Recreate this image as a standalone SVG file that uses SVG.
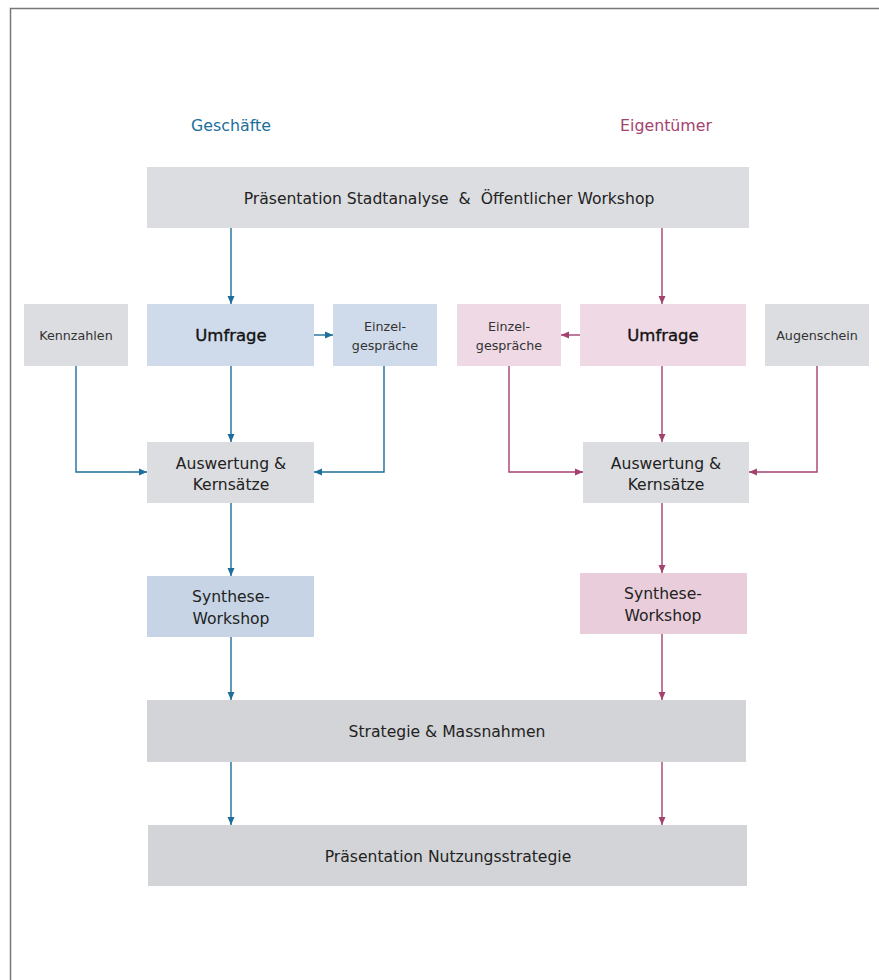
<svg xmlns="http://www.w3.org/2000/svg" width="879" height="980" viewBox="0 0 879 980">
<defs>
<marker id="ab" markerWidth="8" markerHeight="8" refX="8" refY="4" orient="auto" markerUnits="userSpaceOnUse"><path d="M0,0.5 L8,4 L0,7.5 Z" fill="#1d6e9a"/></marker>
<marker id="ap" markerWidth="8" markerHeight="8" refX="8" refY="4" orient="auto" markerUnits="userSpaceOnUse"><path d="M0,0.5 L8,4 L0,7.5 Z" fill="#a4426f"/></marker>
</defs>
<style>
text{font-family:"DejaVu Sans","Noto Sans",sans-serif;fill:#222;text-anchor:middle}
.t{font-size:15.6px}
.s{font-size:12.7px;fill:#333}
.h{font-size:16.5px;fill:#111;stroke:#111;stroke-width:0.35}
.gray{fill:#dcdde0}
.gray2{fill:#d3d4d7}
.blue{fill:#cfdbea}
.blue2{fill:#c6d4e5}
.pink{fill:#eed9e5}
.pink2{fill:#e9cddb}
.cb{stroke:#1d6e9a;stroke-width:1.4;fill:none;marker-end:url(#ab)}
.cp{stroke:#a4426f;stroke-width:1.4;fill:none;marker-end:url(#ap)}
</style>
<rect width="879" height="980" fill="#fff"/>
<path d="M10.5,980 V8.5 H879" stroke="#777" stroke-width="1.5" fill="none"/>
<text x="231" y="131" style="font-size:15.8px;fill:#1d6e9a">Geschäfte</text>
<text x="666" y="131" style="font-size:15.8px;fill:#a4426f">Eigentümer</text>
<g id="top"><rect class="gray" x="147" y="167" width="602" height="61"/><text class="t" x="449" y="204" xml:space="preserve">Präsentation Stadtanalyse  &amp;  Öffentlicher Workshop</text></g>
<g id="kennzahlen"><rect class="gray" x="24" y="304" width="104" height="62"/><text class="s" x="76" y="340">Kennzahlen</text></g>
<g id="umfrage-g"><rect class="blue" x="147" y="304" width="167" height="62"/><text class="h" x="231" y="341">Umfrage</text></g>
<g id="einzel-g"><rect class="blue" x="333" y="304" width="104" height="62"/><text class="s" x="385" y="331">Einzel-</text><text class="s" x="385" y="350">gespräche</text></g>
<g id="einzel-e"><rect class="pink" x="457" y="304" width="104" height="62"/><text class="s" x="509" y="331">Einzel-</text><text class="s" x="509" y="350">gespräche</text></g>
<g id="umfrage-e"><rect class="pink" x="580" y="304" width="166" height="62"/><text class="h" x="663" y="341">Umfrage</text></g>
<g id="augenschein"><rect class="gray" x="765" y="304" width="104" height="62"/><text class="s" x="817" y="340">Augenschein</text></g>
<g id="ausw-g"><rect class="gray" x="147" y="442" width="167" height="61"/><text class="t" x="231" y="469">Auswertung &amp;</text><text class="t" x="231" y="490">Kernsätze</text></g>
<g id="ausw-e"><rect class="gray" x="583" y="442" width="166" height="61"/><text class="t" x="666" y="469">Auswertung &amp;</text><text class="t" x="666" y="490">Kernsätze</text></g>
<g id="syn-g"><rect class="blue2" x="147" y="576" width="167" height="61"/><text class="t" x="231" y="602">Synthese-</text><text class="t" x="231" y="624">Workshop</text></g>
<g id="syn-e"><rect class="pink2" x="580" y="573" width="167" height="61"/><text class="t" x="663" y="599">Synthese-</text><text class="t" x="663" y="621">Workshop</text></g>
<g id="strategie"><rect class="gray2" x="147" y="700" width="599" height="62"/><text class="t" x="447" y="737">Strategie &amp; Massnahmen</text></g>
<g id="praes"><rect class="gray2" x="148" y="825" width="599" height="61"/><text class="t" x="448" y="862">Präsentation Nutzungsstrategie</text></g>
<g id="connectors">
<path class="cb" d="M231,228 V304"/>
<path class="cp" d="M662,228 V304"/>
<path class="cb" d="M314,335 H333"/>
<path class="cp" d="M580,335 H561"/>
<path class="cb" d="M231,366 V442"/>
<path class="cp" d="M662,366 V442"/>
<path class="cb" d="M76,366 V472 H147"/>
<path class="cb" d="M384,366 V472 H314"/>
<path class="cp" d="M509,366 V472 H583"/>
<path class="cp" d="M817,366 V472 H749"/>
<path class="cb" d="M231,503 V576"/>
<path class="cp" d="M662,503 V573"/>
<path class="cb" d="M231,637 V700"/>
<path class="cp" d="M662,634 V700"/>
<path class="cb" d="M231,762 V825"/>
<path class="cp" d="M662,762 V825"/>
</g>
</svg>
